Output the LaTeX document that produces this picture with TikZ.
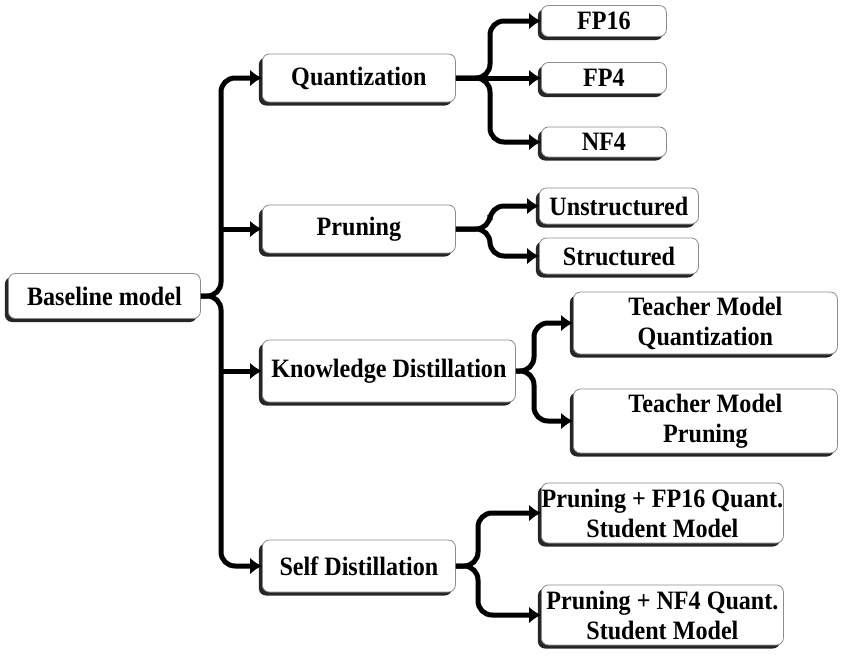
\documentclass[tikz,border=0pt]{standalone}
\usepackage{fontspec}
\setmainfont[FakeStretch=0.91]{Liberation Serif}
\usetikzlibrary{arrows.meta,shadows,calc}
\begin{document}
\begin{tikzpicture}[x=1pt,y=1pt,
  box/.style={draw=black!45, line width=0.8pt, fill=white, rounded corners=7pt,
    anchor=west, inner sep=0pt, align=center,
    font=\bfseries\fontsize{26.5}{30}\selectfont,
    drop shadow={shadow xshift=-3.5pt, shadow yshift=-3.5pt, fill=black!85, opacity=1}},
  conn/.style={line width=5pt, black},
  arr/.style={conn, -{Latex[length=12pt,width=17pt]}},
  curvy/.style={rounded corners=14pt}]
\useasboundingbox (0,0) rectangle (846,-654);
% nodes
\node[box, minimum width=192, minimum height=45] (base) at (8,-296) {Baseline model};
\node[box, minimum width=193, minimum height=48] (quant) at (262,-78) {Quantization};
\node[box, minimum width=193, minimum height=48] (prun) at (262,-229) {Pruning};
\node[box, minimum width=253, minimum height=62] (kd) at (262,-371) {Knowledge Distillation};
\node[box, minimum width=193, minimum height=52] (selfd) at (262,-566) {Self Distillation};
\node[box, minimum width=125, minimum height=31] (fp16) at (541,-21) {FP16};
\node[box, minimum width=125, minimum height=31] (fp4) at (541,-78) {FP4};
\node[box, minimum width=125, minimum height=30] (nf4) at (541,-142) {NF4};
\node[box, minimum width=159, minimum height=36] (unst) at (539,-206) {Unstructured};
\node[box, minimum width=159, minimum height=36] (stru) at (539,-256) {Structured};
\node[box, minimum width=264, minimum height=62] (tmq) at (573,-323) {Teacher Model\\Quantization};
\node[box, minimum width=264, minimum height=64] (tmp) at (573,-421) {Teacher Model\\Pruning};
\node[box, minimum width=242, minimum height=60] (s1) at (541,-513) {Pruning + FP16 Quant.\\Student Model};
\node[box, minimum width=242, minimum height=60] (s2) at (541,-615) {Pruning + NF4 Quant.\\Student Model};
% junctions
\coordinate (jt) at (221,-296);
\coordinate (jq) at (490,-78);
\coordinate (jp) at (490,-229);
\coordinate (jk) at (534,-371);
\coordinate (js) at (478,-566);
% trunk
\draw[arr, curvy] (base.east) -- (jt) |- (quant.west);
\draw[arr, curvy] (base.east) -- (jt) |- (selfd.west);
\draw[arr] (jt |- prun.west) -- (prun.west);
\draw[arr] (jt |- kd.west) -- (kd.west);
% quantization
\draw[arr, curvy] (quant.east) -- (jq) |- (fp16.west);
\draw[arr] (quant.east) -- (fp4.west);
\draw[arr, curvy] (quant.east) -- (jq) |- (nf4.west);
% pruning
\draw[arr, curvy] (prun.east) -- (jp) |- (unst.west);
\draw[arr, curvy] (prun.east) -- (jp) |- (stru.west);
% knowledge distillation
\draw[arr, curvy] (kd.east) -- (jk) |- (tmq.west);
\draw[arr, curvy] (kd.east) -- (jk) |- (tmp.west);
% self distillation
\draw[arr, curvy] (selfd.east) -- (js) |- (s1.west);
\draw[arr, curvy] (selfd.east) -- (js) |- (s2.west);
\end{tikzpicture}
\end{document}
